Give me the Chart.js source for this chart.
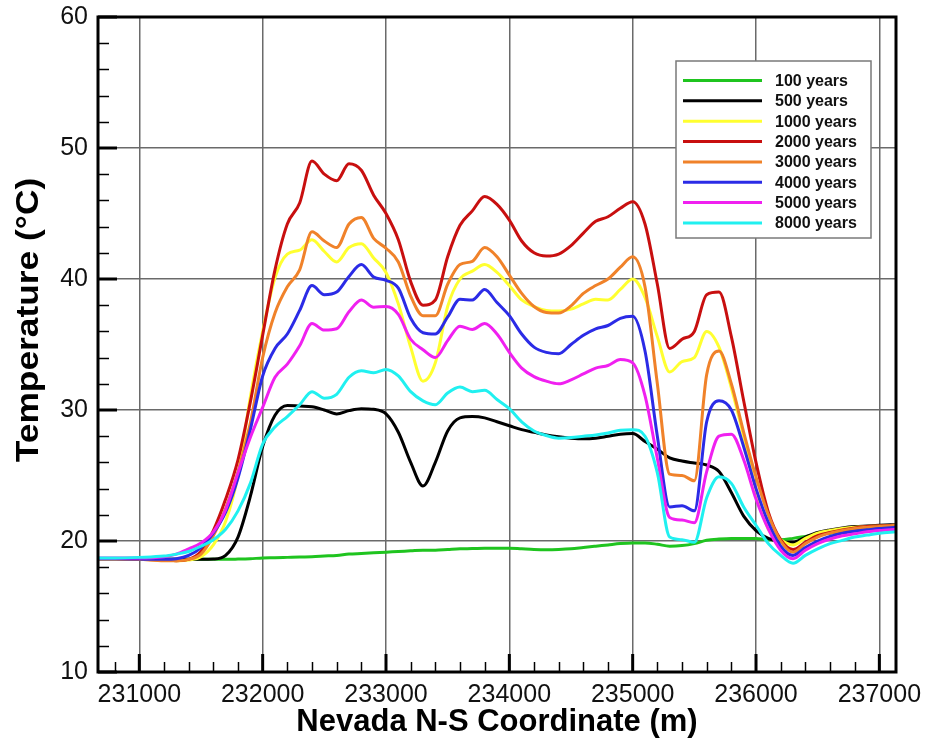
<!DOCTYPE html>
<html>
<head>
<meta charset="utf-8">
<title>Temperature along Nevada N-S coordinate</title>
<script src="https://cdn.jsdelivr.net/npm/chart.js@4.4.1/dist/chart.umd.min.js"></script>
<style>
  html, body { margin: 0; padding: 0; background: #fff; }
  #wrap { width: 926px; height: 744px; }
</style>
</head>
<body>
<div id="wrap"><canvas id="tempChart" width="926" height="744"></canvas></div>
<script>
// N-S coordinate (m) at which the curves were read
const coords = [
  230665, 230800, 231000,
  231200, 231300, 231400, 231500, 231600, 231700, 231800, 231900, 232000,
  232100, 232200, 232300, 232400, 232500, 232600, 232700, 232800, 232900, 233000,
  233100, 233200, 233300, 233400, 233500, 233600, 233700, 233800, 233900, 234000,
  234100, 234200, 234300, 234400, 234500, 234600, 234700, 234800, 234900, 235000,
  235100, 235200, 235300, 235400, 235500, 235600, 235700, 235800, 235900, 236000,
  236100, 236200, 236300, 236400, 236500, 236600, 236700, 236800, 236900, 237000,
  237135
];

// temperature (°C) for each time
const t100 = [
  18.65, 18.65, 18.65,
  18.6, 18.6, 18.6, 18.6, 18.6, 18.6, 18.62, 18.65, 18.7,
  18.72, 18.75, 18.78, 18.8, 18.85, 18.9, 19.0, 19.05, 19.1, 19.15,
  19.2, 19.25, 19.3, 19.3, 19.35, 19.4, 19.42, 19.45, 19.45, 19.45,
  19.4, 19.35, 19.33, 19.35, 19.4, 19.5, 19.6, 19.7, 19.8, 19.85,
  19.85, 19.75, 19.6, 19.65, 19.8, 20.05, 20.15, 20.2, 20.2, 20.2,
  20.1, 20.1, 20.2, 20.35, 20.5, 20.6, 20.7, 20.8, 20.85, 20.9,
  21.0
];
const t500 = [
  18.65, 18.65, 18.65,
  18.6, 18.6, 18.6, 18.6, 18.62, 18.9, 20.3, 23.4, 27.2,
  29.6, 30.35, 30.3, 30.25, 30.0, 29.7, 29.95, 30.1, 30.05, 29.7,
  28.3, 26.0, 24.2, 26.0, 28.4, 29.4, 29.5, 29.4, 29.1, 28.8,
  28.5, 28.3, 28.1, 27.95, 27.85, 27.8, 27.85, 28.0, 28.15, 28.2,
  27.6, 27.0, 26.35, 26.1, 25.95, 25.8, 25.3, 23.7, 21.9, 20.8,
  20.2, 19.95, 19.9, 20.3, 20.65, 20.85, 21.0, 21.1, 21.15, 21.2,
  21.25
];
const t1000 = [
  18.65, 18.65, 18.6,
  18.55, 18.5, 18.55, 18.8, 19.7, 21.5, 25.0, 31.0, 36.0,
  40.1, 41.9, 42.2, 43.0, 42.1, 41.3, 42.4, 42.7, 41.6, 40.5,
  38.1, 34.8, 32.2, 33.6, 37.9, 40.0, 40.6, 41.1, 40.5, 39.5,
  38.4, 37.9, 37.6, 37.55, 37.7, 38.1, 38.45, 38.4, 39.2, 40.0,
  38.6, 35.6, 32.9, 33.7, 34.0, 36.0, 34.8, 31.7, 28.0, 23.9,
  20.9, 20.1, 19.7, 20.2, 20.6, 20.8, 20.95, 21.05, 21.1, 21.15,
  21.2
];
const t2000 = [
  18.65, 18.65, 18.6,
  18.55, 18.5, 18.6, 19.2, 20.8, 23.2, 26.2, 30.6, 35.7,
  40.7, 44.2, 45.8, 49.0, 48.0, 47.5, 48.8, 48.3, 46.4, 45.0,
  43.0, 39.8, 38.0, 38.4, 41.7, 44.1, 45.2, 46.3, 45.7, 44.5,
  42.9, 42.0, 41.75, 41.9, 42.55, 43.5, 44.4, 44.75, 45.4, 45.9,
  44.2, 39.6, 34.7, 35.4, 36.0, 38.8, 39.0, 35.6, 30.7, 26.0,
  22.2, 20.1, 19.35, 19.9, 20.4, 20.65, 20.85, 21.0, 21.1, 21.15,
  21.2
];
const t3000 = [
  18.65, 18.65, 18.6,
  18.5, 18.5, 18.6, 19.0, 20.4, 22.5, 25.3, 29.0, 34.0,
  37.4, 39.4, 40.7, 43.6, 42.9, 42.4, 44.2, 44.7, 43.1, 42.35,
  41.3, 38.7, 37.2, 37.2, 39.6, 41.1, 41.35, 42.4, 41.7, 40.3,
  38.9, 37.9, 37.45, 37.4, 37.95, 38.9, 39.5, 40.0, 40.9, 41.7,
  39.4, 32.0, 25.1, 25.0, 24.6, 32.7, 34.5, 32.0, 28.3, 24.9,
  22.0, 20.0, 19.15, 19.8, 20.3, 20.6, 20.8, 20.95, 21.05, 21.1,
  21.2
];
const t4000 = [
  18.65, 18.65, 18.62,
  18.6, 18.65, 18.9, 19.5, 20.6, 22.2, 24.8, 28.5, 32.6,
  34.7, 35.8, 37.6, 39.5, 38.8, 39.0, 40.2, 41.1, 40.15, 39.9,
  39.3, 37.0, 35.9, 35.8, 37.1, 38.45, 38.4, 39.2, 38.2, 37.2,
  35.8, 34.8, 34.4, 34.3, 35.0, 35.7, 36.2, 36.45, 37.0, 37.15,
  34.5, 28.0, 22.6, 22.7, 22.3, 29.1, 30.7, 30.0, 27.2, 24.0,
  21.4, 19.6, 18.9, 19.5, 20.0, 20.35, 20.6, 20.75, 20.85, 20.95,
  21.05
];
const t5000 = [
  18.7, 18.7, 18.7,
  18.8, 19.0, 19.4, 19.85, 20.7, 22.4, 25.2, 27.9, 30.2,
  32.5, 33.5, 34.9, 36.6, 36.1, 36.2, 37.5, 38.4, 37.85, 37.9,
  37.3, 35.4, 34.6, 34.0, 35.3, 36.4, 36.15, 36.6, 35.8, 34.4,
  33.2, 32.55, 32.2, 32.0, 32.3, 32.75, 33.2, 33.4, 33.85, 33.6,
  31.1, 26.3, 21.8, 21.6, 21.4, 25.3, 28.0, 28.15, 26.2, 23.2,
  20.9, 19.3, 18.65, 19.3, 19.8, 20.15, 20.4, 20.55, 20.7, 20.8,
  20.9
];
const t8000 = [
  18.7, 18.7, 18.75,
  18.85, 19.0, 19.2, 19.6, 20.1, 20.9, 22.3, 24.4, 27.4,
  28.7, 29.5, 30.4, 31.4, 30.9, 31.2, 32.5, 33.0, 32.85, 33.1,
  32.6, 31.4, 30.7, 30.4, 31.3, 31.75, 31.4, 31.5, 30.8, 30.1,
  29.1, 28.4, 28.05, 27.85, 27.9, 28.0, 28.1, 28.25, 28.45, 28.5,
  28.0, 25.2, 20.3, 20.1, 19.9, 23.3, 24.9, 24.4, 22.6, 21.2,
  19.8, 18.9, 18.3, 18.9, 19.4, 19.8, 20.05, 20.3, 20.45, 20.6,
  20.7
];

const seriesLabels = ["100 years", "500 years", "1000 years", "2000 years",
                      "3000 years", "4000 years", "5000 years", "8000 years"];
const seriesColors = ["#1fc41f", "#000000", "#ffff30", "#c80f0f",
                      "#f0822a", "#2b2be6", "#f020f0", "#20f0f0"];
const seriesValues = [t100, t500, t1000, t2000, t3000, t4000, t5000, t8000];

const xTicks = [231000, 232000, 233000, 234000, 235000, 236000, 237000];
const yTicks = [10, 20, 30, 40, 50, 60];

const FONT = "'Liberation Sans', Arial, Helvetica, sans-serif";

// legend box inside the plot, tecplot style
const boxLegend = {
  id: "boxLegend",
  afterDatasetsDraw(chart) {
    const ctx = chart.ctx;
    ctx.save();
    ctx.fillStyle = "#fff";
    ctx.fillRect(676, 61, 195, 177);
    ctx.strokeStyle = "#7a7a7a";
    ctx.lineWidth = 1.5;
    ctx.strokeRect(676, 61, 195, 177);
    ctx.font = "bold 16px " + FONT;
    ctx.textBaseline = "middle";
    ctx.fillStyle = "#111";
    chart.data.datasets.forEach((ds, i) => {
      const yy = 80.5 + i * 20.35;
      ctx.strokeStyle = ds.borderColor;
      ctx.lineWidth = 3;
      ctx.beginPath();
      ctx.moveTo(683, yy);
      ctx.lineTo(762, yy);
      ctx.stroke();
      ctx.fillText(ds.label, 775, yy + 1);
    });
    ctx.restore();
  },
};

// frame, inward major/minor ticks and the rotated y title
const frame = {
  id: "frame",
  afterDraw(chart) {
    const { ctx, chartArea: a } = chart;
    const x = chart.scales.x;
    const y = chart.scales.y;
    ctx.save();
    ctx.strokeStyle = "#000";

    ctx.lineWidth = 1.5;
    for (let v = 230800; v < x.max; v += 200) {
      if (v % 1000 === 0) continue;
      const px = Math.round(x.getPixelForValue(v)) + 0.5;
      ctx.beginPath(); ctx.moveTo(px, a.bottom); ctx.lineTo(px, a.bottom - 10); ctx.stroke();
    }
    for (let v = 12; v < 60; v += 2) {
      if (v % 10 === 0) continue;
      const py = Math.round(y.getPixelForValue(v)) + 0.5;
      ctx.beginPath(); ctx.moveTo(a.left, py); ctx.lineTo(a.left + 11, py); ctx.stroke();
    }

    ctx.lineWidth = 3;
    xTicks.forEach((v) => {
      const px = x.getPixelForValue(v);
      ctx.beginPath(); ctx.moveTo(px, a.bottom); ctx.lineTo(px, a.bottom - 18); ctx.stroke();
    });
    yTicks.forEach((v) => {
      const py = y.getPixelForValue(v);
      ctx.beginPath(); ctx.moveTo(a.left, py); ctx.lineTo(a.left + 19, py); ctx.stroke();
    });

    ctx.strokeRect(a.left, a.top, a.right - a.left, a.bottom - a.top);

    ctx.translate(29, 320);
    ctx.rotate(-Math.PI / 2);
    ctx.scale(1.14, 1);
    ctx.font = "bold 31px " + FONT;
    ctx.fillStyle = "#000";
    ctx.textAlign = "center";
    ctx.textBaseline = "middle";
    ctx.fillText("Temperature (°C)", 0, 0);
    ctx.restore();
  },
};

const datasets = seriesLabels.map((label, i) => ({
  label: label,
  data: coords.map((c, k) => ({ x: c, y: seriesValues[i][k] })),
  borderColor: seriesColors[i],
  backgroundColor: seriesColors[i],
  borderWidth: 3,
  pointRadius: 0,
  cubicInterpolationMode: "monotone",
  fill: false,
  order: seriesLabels.length - i,
}));

const ctx = document.getElementById("tempChart").getContext("2d");
const tempChart = new Chart(ctx, {
  type: "line",
  data: { datasets: datasets },
  options: {
    responsive: false,
    animation: false,
    events: [],
    layout: { padding: { top: 17, right: 30, left: 0, bottom: 0 } },
    plugins: {
      legend: { display: false },
      tooltip: { enabled: false },
    },
    scales: {
      x: {
        type: "linear",
        min: 230665,
        max: 237135,
        afterBuildTicks: (s) => { s.ticks = xTicks.map((v) => ({ value: v })); },
        afterFit: (s) => {
          s.height = 72;
          s.paddingLeft = 0;
          s.paddingRight = 0;
        },
        grid: { color: "#6a6a6a", lineWidth: 1.5, drawTicks: false },
        border: { display: false },
        ticks: {
          padding: 8,
          autoSkip: false,
          maxRotation: 0,
          color: "#111",
          font: { family: FONT, size: 25 },
          callback: (v) => String(v),
        },
        title: {
          display: true,
          text: "Nevada N-S Coordinate (m)",
          color: "#000",
          font: { family: FONT, size: 31, weight: "bold" },
          padding: { top: 0, bottom: 3 },
        },
      },
      y: {
        type: "linear",
        min: 10,
        max: 60,
        afterBuildTicks: (s) => { s.ticks = yTicks.map((v) => ({ value: v })); },
        afterFit: (s) => {
          s.width = 98;
          s.paddingTop = 0;
          s.paddingBottom = 0;
        },
        grid: { color: "#6a6a6a", lineWidth: 1.5, drawTicks: false },
        border: { display: false },
        ticks: {
          padding: 10,
          color: "#111",
          font: { family: FONT, size: 25 },
        },
      },
    },
  },
  plugins: [boxLegend, frame],
});
</script>
</body>
</html>
